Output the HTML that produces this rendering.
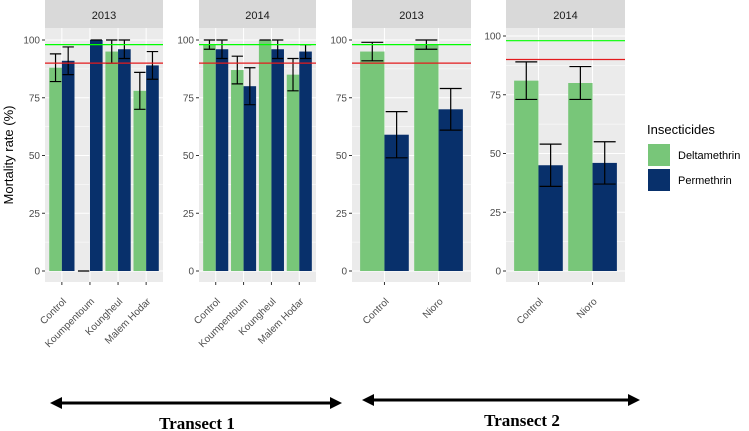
<!DOCTYPE html>
<html><head><meta charset="utf-8"><style>
body{margin:0;background:#fff;}
svg{display:block;font-family:"Liberation Sans",sans-serif;}
</style></head><body>
<svg id="chart" width="749" height="431" viewBox="0 0 749 431"></svg>
<script>
const panelYears = ["2013","2014","2013","2014"];
const panelCats = [
  ["Control","Koumpentoum","Koungheul","Malem Hodar"],
  ["Control","Koumpentoum","Koungheul","Malem Hodar"],
  ["Control","Nioro"],
  ["Control","Nioro"]
];
const deltaVals = [[88,0,95,78],[98,87,100,85],[95,98],[81,80]];
const deltaLo = [[82,0,90,70],[96,81,100,78],[91,96],[73,73]];
const deltaHi = [[94,0,100,86],[100,93,100,92],[99,100],[89,87]];
const permVals = [[91,100,96,89],[96,80,96,95],[59,70],[45,46]];
const permLo = [[85,100,92,83],[92,72,92,92],[49,61],[36,37]];
const permHi = [[97,100,100,95],[100,88,100,98],[69,79],[54,55]];
const yTicks = [0,25,50,75,100];
const greenRef = 98;
const redRef = 90;

const svg = document.getElementById('chart');
const NS = "http://www.w3.org/2000/svg";
function mk(tag, attrs, parent){
  const e = document.createElementNS(NS, tag);
  for (const k in attrs) e.setAttribute(k, attrs[k]);
  (parent||svg).appendChild(e);
  return e;
}
const panelX = [[45,163],[199,316],[352,471],[506,625]];
const panelTop = 28, panelBot = 282;
const y0 = [271,271,271,271], y100 = [40,40,40,36];

panelYears.forEach((yr, p) => {
  const [x0, x1] = panelX[p];
  const g = mk('g', {});
  
  
  const ys = v => y0[p] + (y100[p]-y0[p]) * v / 100;
  const cats = panelCats[p];
  const unit = (x1 - x0) / (cats.length - 1 + 1.2);
  const xs = i => x0 + unit * (0.6 + i);
  const bg = mk('rect', {x:x0, y:panelTop, width:x1-x0, height:panelBot-panelTop, fill:'#ebebeb'}, g);
  
  
  const strip = mk('rect', {x:x0, y:0, width:x1-x0, height:panelTop, fill:'#d9d9d9'}, g);
  
  
  const st = mk('text', {x:(x0+x1)/2, y:19, 'text-anchor':'middle', 'font-size':11, fill:'#1a1a1a'}, g);
  st.textContent = yr;
  
  
  for (let i = 0; i < yTicks.length - 1; i++) {
    const m = (yTicks[i] + yTicks[i+1]) / 2;
    mk('line', {x1:x0, x2:x1, y1:ys(m), y2:ys(m), stroke:'#fff', 'stroke-width':0.5}, g);
  }
  yTicks.forEach(t => {
    mk('line', {x1:x0, x2:x1, y1:ys(t), y2:ys(t), stroke:'#fff', 'stroke-width':1}, g);
    mk('line', {x1:x0-3, x2:x0, y1:ys(t), y2:ys(t), stroke:'#333', 'stroke-width':1}, g);
    const tl = mk('text', {x:x0-5, y:ys(t)+3.5, 'text-anchor':'end', 'font-size':10, fill:'#4d4d4d'}, g);
    tl.textContent = t;
    
    
  });
  cats.forEach((c, i) => {
    mk('line', {x1:xs(i), x2:xs(i), y1:panelTop, y2:panelBot, stroke:'#fff', 'stroke-width':1}, g);
  });
  const bw = unit * 0.45;
  cats.forEach((c, i) => {
    const cx = xs(i);
    const series = [
      [deltaVals, deltaLo, deltaHi, '#78c679', cx - bw, 'deltamethrin'],
      [permVals, permLo, permHi, '#08306b', cx, 'permethrin']
    ];
    series.forEach(([vals, lo, hi, col, bx, nm]) => {
      const v = vals[p][i];
      const r = mk('rect', {x:bx, y:ys(v), width:bw, height:Math.max(0, ys(0)-ys(v)), fill:col}, g);
      
      
      const ex = bx + bw/2, ew = bw * 0.45;
      const eb = mk('path', {d:`M${ex-ew},${ys(hi[p][i])}H${ex+ew}M${ex},${ys(hi[p][i])}V${ys(lo[p][i])}M${ex-ew},${ys(lo[p][i])}H${ex+ew}`, stroke:'#000', 'stroke-width':1.2, fill:'none'}, g);
      
      
    });
    mk('line', {x1:cx, x2:cx, y1:panelBot, y2:panelBot+3, stroke:'#333'}, g);
    const lx = cx + 5, ly = 302;
    const lab = mk('text', {x:lx, y:ly, 'text-anchor':'end', 'font-size':10, fill:'#4d4d4d', transform:`rotate(-45 ${lx} ${ly})`}, g);
    lab.textContent = c;
    
    
  });
  const gl = mk('line', {x1:x0, x2:x1, y1:ys(greenRef), y2:ys(greenRef), stroke:'#00ff00', 'stroke-width':1.2}, g);
  
  
  const rl = mk('line', {x1:x0, x2:x1, y1:ys(redRef), y2:ys(redRef), stroke:'#e31a1c', 'stroke-width':1.2}, g);
  
  
});

const yt = mk('text', {x:13, y:155, 'text-anchor':'middle', 'font-size':13, fill:'#000', transform:'rotate(-90 13 155)'});
yt.textContent = 'Mortality rate (%)';



const lt = mk('text', {x:647, y:134, 'font-size':13, fill:'#000'});
lt.textContent = 'Insecticides';


[['Deltamethrin','#78c679',144],['Permethrin','#08306b',169]].forEach(([n,c,y]) => {
  const k = mk('rect', {x:648, y:y, width:22, height:22, fill:c});
  
  
  const t = mk('text', {x:678, y:y+15, 'font-size':11, fill:'#000'});
  t.textContent = n;
  
  
});

[[50,342,403,197,'Transect 1'],[362,640,400,522,'Transect 2']].forEach(([a,b,y,cx,txt], i) => {
  const ar = mk('path', {d:`M${a+10},${y}H${b-10}`, stroke:'#000', 'stroke-width':3});
  
  
  mk('path', {d:`M${a},${y}L${a+12},${y-6}L${a+12},${y+6}Z M${b},${y}L${b-12},${y-6}L${b-12},${y+6}Z`, fill:'#000'});
  const t = mk('text', {x:cx, y:y+26, 'text-anchor':'middle', 'font-size':17, 'font-weight':'bold', 'font-family':'"Liberation Serif",serif', fill:'#000'});
  t.textContent = txt;
  
  
});
</script>
</body></html>
